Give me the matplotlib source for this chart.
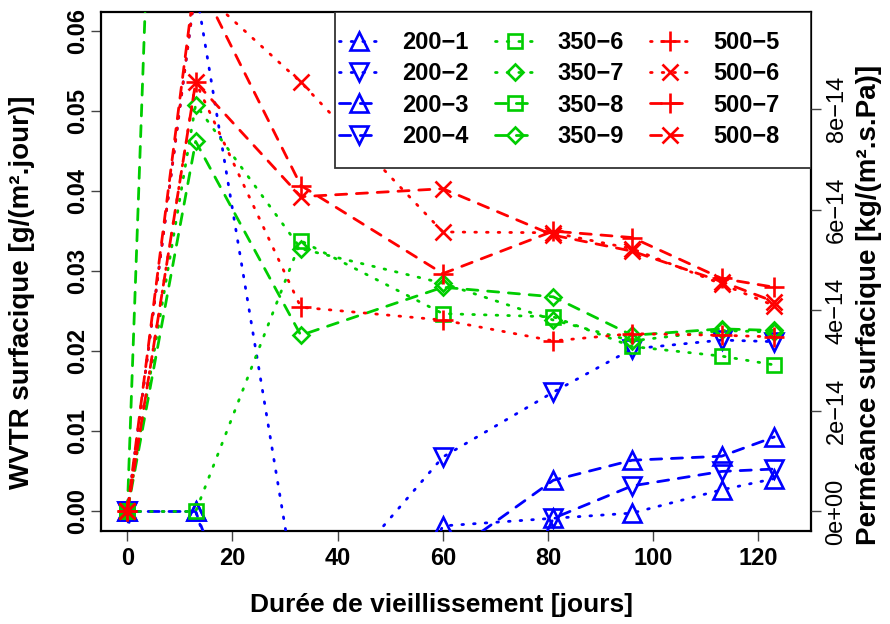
import numpy as np
import matplotlib
matplotlib.use("Agg")
import matplotlib.pyplot as plt
from matplotlib.lines import Line2D
from matplotlib.patches import Rectangle

plt.rcParams['font.family'] = ['Liberation Sans', 'DejaVu Sans']

# ---------------- data ----------------
days = [0, 13, 33, 60, 81, 96, 113, 123]

w200_1 = [0, 0, -0.040, -0.0018, -0.00085, -0.0002, 0.0027, 0.0041]
w200_2 = [0, 0.0655, -0.0138, 0.0068, 0.0149, 0.0203, 0.0214, 0.0212]
w200_3 = [0, 0, -0.035, -0.006, 0.0039, 0.0064, 0.0069, 0.0093]
w200_4 = [0, -0.050, -0.040, -0.030, -0.00085, 0.0032, 0.0050, 0.0053]

w350_6 = [0, 0, 0.0338, 0.0247, 0.0243, 0.0206, 0.0194, 0.0183]
w350_7 = [0, 0.0508, 0.0328, 0.0285, 0.0239, 0.0213, 0.0226, 0.0224]
w350_8 = [0, 0.24, np.nan, np.nan, np.nan, np.nan, np.nan, np.nan]
w350_9 = [0, 0.0462, 0.0220, 0.0280, 0.0268, 0.0220, 0.0228, 0.0226]

w500_5 = [0, 0.0536, 0.0255, 0.0239, 0.0213, 0.0222, 0.0220, 0.0218]
w500_6 = [0, 0.0656, 0.0536, 0.0349, 0.0348, 0.0328, 0.0284, 0.0257]
w500_7 = [0, 0.0670, 0.0407, 0.0297, 0.0350, 0.0342, 0.0291, 0.0280]
w500_8 = [0, 0.0536, 0.0393, 0.0403, 0.0345, 0.0325, 0.0287, 0.0262]

labels = ["200\u22121", "200\u22122", "200\u22123", "200\u22124",
          "350\u22126", "350\u22127", "350\u22128", "350\u22129",
          "500\u22125", "500\u22126", "500\u22127", "500\u22128"]

x_ticks = [0, 20, 40, 60, 80, 100, 120]
y_ticks = [0.00, 0.01, 0.02, 0.03, 0.04, 0.05, 0.06]
y_ticklabels = ["0.00", "0.01", "0.02", "0.03", "0.04", "0.05", "0.06"]
perm_ticks = [0, 2e-14, 4e-14, 6e-14, 8e-14]
perm_ticklabels = ["0e+00", "2e\u221214", "4e\u221214", "6e\u221214", "8e\u221214"]

# conversion g/(m2.day) -> kg/(m2.s.Pa)
DELTA_P = 7264.0
CONV = 1.0 / (1000.0 * 86400.0 * DELTA_P)

# ---------------- styles ----------------
BLUE = "#0000FF"
GREEN = "#00CD00"
RED = "#FF0000"
DOT = (0, (0.6, 3.6))
DASH = (0, (4, 3.5))

series = [
    (w200_1, BLUE, DOT, '^'), (w200_2, BLUE, DOT, 'v'),
    (w200_3, BLUE, DASH, '^'), (w200_4, BLUE, DASH, 'v'),
    (w350_6, GREEN, DOT, 's'), (w350_7, GREEN, DOT, 'D'),
    (w350_8, GREEN, DASH, 's'), (w350_9, GREEN, DASH, 'D'),
    (w500_5, RED, DOT, '+'), (w500_6, RED, DOT, 'x'),
    (w500_7, RED, DASH, '+'), (w500_8, RED, DASH, 'x'),
]
msize = {'^': 13, 'v': 13, 's': 9.5, 'D': 8.5, '+': 14.5, 'x': 11}

W, H = 890, 624
fig = plt.figure(figsize=(W / 100, H / 100), dpi=100)
L, R, T, B = 101, 811, 11.7, 530.7
ax = fig.add_axes([L / W, 1 - B / H, (R - L) / W, (B - T) / H])

handles = []
for (vals, col, ls, mk), lab in zip(series, labels):
    y = np.array(vals, dtype=float)
    ax.plot(days, y, color=col, linestyle=ls, lw=2.0,
            marker=mk, ms=msize[mk], mew=1.9, mfc='none', mec=col,
            dash_capstyle='round', clip_on=True, zorder=3)
    handles.append(Line2D([], [], color=col, linestyle=ls, lw=2.0, marker=mk,
                          ms=msize[mk], mew=1.9, mfc='none', mec=col,
                          dash_capstyle='round'))

ax.set_xlim(-5, 130)
ax.set_ylim(-0.0024, 0.0624)
ax.set_xticks(x_ticks)
ax.set_xticklabels([str(v) for v in x_ticks], fontsize=17, fontweight='bold')
ax.set_yticks(y_ticks)
ax.set_yticklabels(y_ticklabels, fontsize=17, fontweight='bold', rotation=90, va='center')
ax.tick_params(axis='both', direction='out', length=7.5, width=1.0, color='#444444')
ax.tick_params(axis='x', pad=4)
ax.tick_params(axis='y', pad=1)
for sp in ax.spines.values():
    sp.set_linewidth(1.6)
    sp.set_color('black')

ax.set_xlabel("Durée de vieillissement [jours]", fontsize=19, fontweight='bold', va='center')
ax.xaxis.set_label_coords((441 - L) / (R - L), (B - 605) / (B - T))
ax.set_ylabel("WVTR surfacique [g/(m².jour)]", fontsize=20, fontweight='bold', va='center')
ax.yaxis.set_label_coords((22 - L) / (R - L), (B - 292) / (B - T))

ax2 = ax.twinx()
lo, hi = ax.get_ylim()
ax2.set_ylim(lo * CONV, hi * CONV)
ax2.set_yticks(perm_ticks)
ax2.set_yticklabels(perm_ticklabels, fontsize=17, rotation=90, va='center')
ax2.tick_params(axis='y', direction='out', length=7.5, width=1.0, color='#444444', pad=3)
for sp in ax2.spines.values():
    sp.set_visible(False)
ax2.set_ylabel("Perméance surfacique [kg/(m².s.Pa)]", fontsize=20, fontweight='bold',
               va='center', rotation=90)
ax2.yaxis.set_label_coords((869 - L) / (R - L), (B - 305) / (B - T))

# legend box
def ax_coords(px, py):
    return ((px - L) / (R - L), (B - py) / (B - T))

x0, y0 = ax_coords(335, 168)
x1, y1 = ax_coords(R, T)
ax.add_patch(Rectangle((x0, y0), x1 - x0, y1 - y0, transform=ax.transAxes,
                       facecolor='white', edgecolor='#333333', lw=1.3, zorder=5))
lx, ly = ax_coords(339, 31)
leg = ax.legend(handles, labels, ncol=3, loc='upper left', bbox_to_anchor=(lx, ly),
                frameon=False, prop={'weight': 'bold', 'size': 17},
                handlelength=1.7, handletextpad=0.97, columnspacing=1.1,
                labelspacing=0.35, borderpad=0.0, borderaxespad=0.0)
leg.set_zorder(6)

fig.savefig("out.png", dpi=100)
